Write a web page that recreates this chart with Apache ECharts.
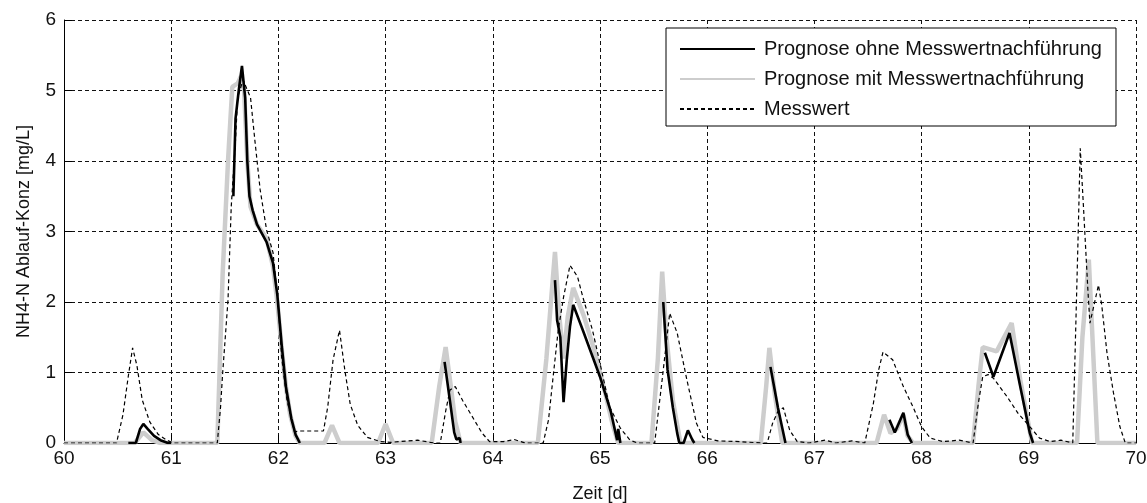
<!DOCTYPE html>
<html>
<head>
<meta charset="utf-8">
<script src="https://cdn.jsdelivr.net/npm/echarts@6/dist/echarts.min.js"></script>
<style>
  html, body { margin: 0; padding: 0; background: #fff; }
  #chart { width: 1147px; height: 503px; }
</style>
</head>
<body>
<div id="chart"></div>
<script>
// NH4-N effluent concentration, days 60-70: forecasts and measurement
const xTicks = [60, 61, 62, 63, 64, 65, 66, 67, 68, 69, 70];
const yTicks = [0, 1, 2, 3, 4, 5, 6];

const seriesNames = [
  'Prognose ohne Messwertnachführung',
  'Prognose mit Messwertnachführung',
  'Messwert'
];

// Forecast with measurement tracking [Zeit d, mg/L]
const prognoseMit = [
  [60, 0], [60.66, 0], [60.74, 0.15], [60.82, 0.04], [60.9, 0],
  [61.43, 0], [61.48, 2.4], [61.53, 4.0], [61.57, 5.05], [61.62, 5.1], [61.65, 5.2], [61.68, 5.0],
  [61.71, 4.0], [61.74, 3.35], [61.8, 3.1], [61.89, 2.9], [61.95, 2.5], [61.99, 2.0], [62.03, 1.35],
  [62.07, 0.8], [62.11, 0.4], [62.16, 0.1], [62.2, 0],
  [62.43, 0], [62.5, 0.25], [62.57, 0],
  [62.93, 0], [63.0, 0.27], [63.07, 0],
  [63.43, 0], [63.5, 0.8], [63.56, 1.36], [63.6, 0.9], [63.65, 0.3], [63.7, 0],
  [64.42, 0], [64.5, 1.2], [64.58, 2.71], [64.62, 1.8], [64.66, 1.2], [64.7, 1.8], [64.75, 2.2],
  [64.85, 1.8], [64.95, 1.3], [65.05, 0.7], [65.12, 0.25], [65.17, 0],
  [65.48, 0], [65.54, 1.2], [65.58, 2.43], [65.62, 1.5], [65.68, 0.6], [65.75, 0],
  [66.5, 0], [66.55, 0.8], [66.58, 1.35], [66.63, 0.7], [66.7, 0],
  [67.58, 0], [67.65, 0.4], [67.71, 0.14], [67.77, 0.2], [67.83, 0.4], [67.87, 0.1], [67.92, 0],
  [68.48, 0], [68.53, 0.8], [68.57, 1.36], [68.7, 1.3], [68.84, 1.7], [68.92, 0.9], [69.03, 0],
  [69.45, 0], [69.5, 1.5], [69.56, 2.6], [69.6, 1.3], [69.64, 0], [70, 0]
];

// Forecast without measurement tracking, only computed around the events
const prognoseOhneAbschnitte = [
  [[60.6, 0], [60.67, 0], [60.71, 0.2], [60.74, 0.27], [60.78, 0.2], [60.84, 0.1], [60.9, 0.04], [60.97, 0], [61.0, 0]],
  [[61.58, 3.5], [61.6, 4.6], [61.63, 5.0], [61.66, 5.35], [61.69, 4.9], [61.71, 4.0], [61.73, 3.5], [61.76, 3.3],
   [61.8, 3.1], [61.89, 2.85], [61.95, 2.55], [61.99, 2.1], [62.03, 1.4], [62.07, 0.8], [62.12, 0.35], [62.16, 0.12], [62.2, 0]],
  [[63.55, 1.15], [63.6, 0.6], [63.64, 0.15], [63.66, 0.05], [63.69, 0.07], [63.7, 0]],
  [[64.58, 2.31], [64.6, 1.74], [64.63, 1.5], [64.66, 0.58], [64.69, 1.18], [64.72, 1.65], [64.75, 1.96],
   [64.84, 1.6], [65.0, 0.94], [65.1, 0.45], [65.16, 0.04], [65.17, 0.2], [65.19, 0]],
  [[65.59, 2.0], [65.63, 1.04], [65.68, 0.5], [65.72, 0.14], [65.74, 0], [65.78, 0], [65.82, 0.18], [65.86, 0.05], [65.88, 0]],
  [[66.59, 1.08], [66.66, 0.5], [66.73, 0]],
  [[67.7, 0.33], [67.75, 0.15], [67.83, 0.43], [67.87, 0.12], [67.91, 0]],
  [[68.59, 1.28], [68.67, 0.94], [68.82, 1.56], [68.92, 0.8], [69.01, 0.14], [69.04, 0]]
];

// Measured values
const messwert = [
  [60, 0], [60.49, 0], [60.55, 0.4], [60.6, 0.95], [60.64, 1.35], [60.68, 1.1], [60.73, 0.61], [60.8, 0.3],
  [60.88, 0.12], [60.96, 0.04], [61.02, 0], [61.43, 0], [61.46, 0.5], [61.48, 0.99], [61.53, 2.03], [61.56, 3.35],
  [61.6, 4.3], [61.62, 4.9], [61.67, 5.15], [61.74, 4.9], [61.78, 4.3], [61.83, 3.59], [61.89, 3.02], [61.95, 2.7],
  [62.0, 1.93], [62.03, 1.22], [62.08, 0.61], [62.15, 0.16], [62.2, 0.17], [62.42, 0.17], [62.46, 0.51],
  [62.51, 1.18], [62.57, 1.6], [62.62, 1.03], [62.67, 0.55], [62.74, 0.25], [62.83, 0.08], [62.95, 0.02],
  [63.05, 0.01], [63.3, 0.04], [63.45, 0], [63.51, 0], [63.56, 0.45], [63.6, 0.75], [63.65, 0.8], [63.72, 0.6],
  [63.81, 0.37], [63.9, 0.14], [63.97, 0.02], [64.1, 0.02], [64.2, 0.05], [64.3, 0], [64.47, 0], [64.52, 0.33],
  [64.56, 0.9], [64.61, 1.6], [64.66, 2.07], [64.72, 2.52], [64.79, 2.36], [64.84, 2.07], [64.93, 1.6],
  [65.0, 1.13], [65.09, 0.51], [65.19, 0.21], [65.28, 0.04], [65.35, 0], [65.51, 0], [65.58, 0.9], [65.65, 1.84],
  [65.72, 1.56], [65.81, 0.9], [65.9, 0.28], [65.96, 0.08], [66.1, 0.03], [66.3, 0.02], [66.5, 0], [66.56, 0],
  [66.61, 0.28], [66.66, 0.45], [66.71, 0.5], [66.77, 0.18], [66.84, 0.02], [66.95, 0], [67.1, 0.04], [67.2, 0],
  [67.35, 0.03], [67.47, 0], [67.55, 0.56], [67.6, 1.04], [67.64, 1.29], [67.73, 1.18], [67.83, 0.8],
  [67.92, 0.51], [68.0, 0.23], [68.08, 0.07], [68.2, 0.02], [68.35, 0.04], [68.48, 0], [68.53, 0.57],
  [68.57, 0.94], [68.62, 0.97], [68.67, 0.92], [68.8, 0.65], [68.9, 0.42], [69.01, 0.23], [69.1, 0.07],
  [69.2, 0.02], [69.3, 0.04], [69.41, 0], [69.46, 2.93], [69.48, 4.18], [69.51, 3.35], [69.55, 2.2],
  [69.57, 1.7], [69.6, 1.9], [69.65, 2.24], [69.68, 1.96], [69.73, 1.27], [69.79, 0.71], [69.85, 0.23],
  [69.9, 0], [70, 0]
];

// join the forecast sections with gaps between them
const prognoseOhne = [];
prognoseOhneAbschnitte.forEach((seg, i) => {
  if (i > 0) prognoseOhne.push([seg[0][0] - 0.001, null]);
  seg.forEach(p => prognoseOhne.push(p));
});

const FONT = '"Liberation Sans", Arial, Helvetica, sans-serif';
const gridDash = { color: '#111', width: 1, type: [4, 3] };

const chart = echarts.init(document.getElementById('chart'), null, { renderer: 'canvas' });
chart.setOption({
  backgroundColor: '#ffffff',
  animation: false,
  textStyle: { fontFamily: FONT },
  grid: { left: 64, right: 11, top: 20, bottom: 60, containLabel: false, outerBoundsMode: 'none' },
  legend: {
    orient: 'vertical',
    left: 666,
    top: 28,
    padding: [11, 14, 7, 13],
    itemWidth: 75,
    itemHeight: 20,
    itemGap: 10,
    backgroundColor: '#fff',
    borderColor: '#000',
    borderWidth: 1,
    borderRadius: 0,
    data: seriesNames,
    itemStyle: { opacity: 0 },
    textStyle: { fontFamily: FONT, fontSize: 20, color: '#111', padding: [0, 0, 0, 4] }
  },
  xAxis: {
    type: 'value',
    min: xTicks[0],
    max: xTicks[xTicks.length - 1],
    interval: 1,
    name: 'Zeit [d]',
    nameLocation: 'middle',
    nameGap: 42,
    nameTextStyle: { fontFamily: FONT, fontSize: 18, color: '#111' },
    axisLine: { show: true, onZero: false, lineStyle: { color: '#000', width: 1 } },
    axisTick: { show: true, inside: true, length: 8, lineStyle: { color: '#000' } },
    axisLabel: { fontFamily: FONT, fontSize: 19, color: '#111', margin: 6 },
    splitLine: { show: true, lineStyle: gridDash }
  },
  yAxis: {
    type: 'value',
    min: yTicks[0],
    max: yTicks[yTicks.length - 1],
    interval: 1,
    name: 'NH4-N Ablauf-Konz [mg/L]',
    nameLocation: 'middle',
    nameGap: 31,
    nameTextStyle: { fontFamily: FONT, fontSize: 18, color: '#111' },
    axisLine: { show: true, lineStyle: { color: '#000', width: 1 } },
    axisTick: { show: true, inside: true, length: 8, lineStyle: { color: '#000' } },
    axisLabel: { fontFamily: FONT, fontSize: 19, color: '#111', margin: 8 },
    splitLine: { show: true, lineStyle: gridDash }
  },
  series: [
    {
      name: seriesNames[1],
      type: 'line',
      data: prognoseMit,
      showSymbol: false,
      symbol: 'none',
      z: 2,
      lineStyle: { color: '#cdcdcd', width: 4.5 },
      itemStyle: { color: '#cdcdcd' }
    },
    {
      name: seriesNames[0],
      type: 'line',
      data: prognoseOhne,
      connectNulls: false,
      showSymbol: false,
      symbol: 'none',
      z: 3,
      lineStyle: { color: '#000', width: 2.6 },
      itemStyle: { color: '#000' }
    },
    {
      name: seriesNames[2],
      type: 'line',
      data: messwert,
      showSymbol: false,
      symbol: 'none',
      z: 4,
      lineStyle: { color: '#000', width: 1.2, type: [4, 3] },
      itemStyle: { color: '#000' }
    }
  ]
});
</script>
</body>
</html>
